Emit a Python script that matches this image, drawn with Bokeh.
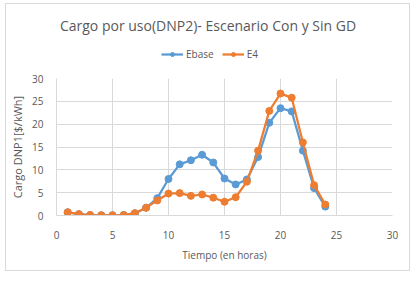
from bokeh.plotting import figure
from bokeh.models import Legend, LegendItem, FixedTicker, Label
from bokeh.layouts import column
from bokeh.embed import file_html
from bokeh.resources import INLINE

hours = list(range(1, 25))
ebase = [0.7, 0.3, 0.1, 0.05, 0.05, 0.1, 0.5, 1.7, 3.8, 8.0, 11.2, 12.1,
         13.3, 11.6, 8.1, 6.8, 7.9, 12.8, 20.3, 23.5, 22.8, 14.2, 6.0, 1.95]
e4 = [0.7, 0.3, 0.1, 0.05, 0.05, 0.1, 0.5, 1.7, 3.3, 4.8, 4.9, 4.3,
      4.6, 3.9, 3.0, 4.0, 7.4, 14.2, 22.9, 26.7, 25.8, 16.0, 6.65, 2.4]
ticks = [0, 5, 10, 15, 20, 25, 30]
series_names = ["Ebase", "E4"]
chart_title = "Cargo por uso(DNP2)- Escenario Con y Sin GD"

FONT = "Open Sans"
GRAY = "#595959"
GRID = "#d9d9d9"
BLUE = "#5B9BD5"
ORANGE = "#ED7D31"

# header figure: title + legend (series drawn off-view, only for the legend)
h = figure(width=403, height=66, output_backend="svg", toolbar_location=None,
           x_axis_type=None, y_axis_type=None, x_range=(-3, -2), y_range=(-3, -2),
           min_border_left=0, min_border_right=0, min_border_top=0,
           min_border_bottom=0)
h.outline_line_color = None
h.grid.visible = False
h.add_layout(Label(x=151.5, y=45, x_units="screen", y_units="screen",
                   text=chart_title, text_align="center",
                   text_baseline="middle", text_font=FONT,
                   text_font_size="14px", text_color=GRAY))
d1l = h.line(hours, ebase, line_color=BLUE, line_width=2.25)
d1c = h.scatter(hours, ebase, size=7, fill_color=BLUE, line_color=BLUE)
d2l = h.line(hours, e4, line_color=ORANGE, line_width=2.25)
d2c = h.scatter(hours, e4, size=7, fill_color=ORANGE, line_color=ORANGE)
legend = Legend(items=[LegendItem(label=series_names[0], renderers=[d1l, d1c]),
                       LegendItem(label=series_names[1], renderers=[d2l, d2c])],
                orientation="horizontal", location=(105, 9),
                label_text_font=FONT, label_text_font_size="10px",
                label_text_color=GRAY, border_line_color=None,
                background_fill_alpha=0, glyph_width=22, glyph_height=10,
                label_standoff=3, spacing=8, padding=2, margin=0,
                label_height=12)
h.add_layout(legend, "center")

p = figure(width=403, height=200, x_range=(0, 30), y_range=(0, 30),
           output_backend="svg", toolbar_location=None,
           min_border_left=50, min_border_right=17, min_border_top=8,
           min_border_bottom=55)
p.outline_line_color = None

p.xaxis.ticker = FixedTicker(ticks=ticks)
p.yaxis.ticker = FixedTicker(ticks=ticks)
for ax in (p.xaxis[0], p.yaxis[0]):
    ax.major_tick_line_color = None
    ax.minor_tick_line_color = None
    ax.axis_line_color = GRID
    ax.major_label_text_font = FONT
    ax.major_label_text_font_size = "10px"
    ax.major_label_text_color = GRAY
    ax.axis_label_text_font = FONT
    ax.axis_label_text_font_style = "normal"
    ax.axis_label_text_color = GRAY
p.xaxis.axis_label_text_font_size = "10px"
p.yaxis.axis_label_text_font_size = "11px"
p.xaxis.axis_label = "Tiempo (en horas)"
p.yaxis.axis_label = "Cargo DNP1[$/kWh]"
p.xaxis.major_label_standoff = 9
p.yaxis.major_label_standoff = 7
p.xaxis.axis_label_standoff = 6
p.yaxis.axis_label_standoff = 4
p.grid.grid_line_color = GRID
p.grid.grid_line_width = 1

p.line(hours, ebase, line_color=BLUE, line_width=2.25)
p.scatter(hours, ebase, size=7, fill_color=BLUE, line_color=BLUE)
p.line(hours, e4, line_color=ORANGE, line_width=2.25)
p.scatter(hours, e4, size=7, fill_color=ORANGE, line_color=ORANGE)

layout = column(h, p, spacing=0)
layout.styles = {"border": "1px solid #d9d9d9",
                 "transform": "translate(5px, 3px)"}

open("out.html", "w").write(file_html(layout, INLINE))
